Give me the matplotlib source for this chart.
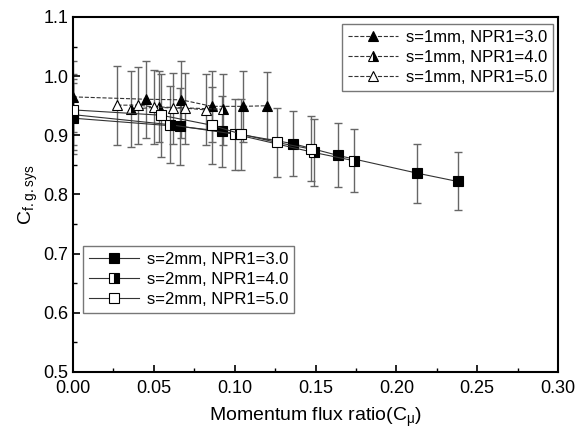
import matplotlib
matplotlib.use('Agg')
import matplotlib.pyplot as plt
from matplotlib.ticker import MultipleLocator

plt.rcParams['font.family'] = ['Liberation Sans', 'DejaVu Sans']
plt.rcParams['mathtext.default'] = 'regular'

# s=1mm (triangles, dashed)
x_t3 = [0.0, 0.045, 0.067, 0.086, 0.105, 0.120]
y_t3 = [0.965, 0.961, 0.960, 0.949, 0.949, 0.950]
e_t3 = [0.060, 0.065, 0.065, 0.060, 0.060, 0.057]

x_t4 = [0.036, 0.053, 0.093]
y_t4 = [0.944, 0.948, 0.944]
e_t4 = [0.064, 0.060, 0.060]

x_t5 = [0.0275, 0.0405, 0.050, 0.062, 0.0695, 0.082]
y_t5 = [0.951, 0.951, 0.948, 0.946, 0.946, 0.943]
e_t5 = [0.067, 0.065, 0.062, 0.060, 0.060, 0.060]

# s=2mm (squares, solid)
x_s3 = [0.0, 0.066, 0.092, 0.136, 0.164, 0.213, 0.238]
y_s3 = [0.929, 0.915, 0.907, 0.886, 0.866, 0.836, 0.822]
e_s3 = [0.060, 0.065, 0.060, 0.055, 0.054, 0.050, 0.049]

x_s4 = [0.0, 0.060, 0.100, 0.149, 0.174]
y_s4 = [0.935, 0.918, 0.902, 0.871, 0.857]
e_s4 = [0.060, 0.065, 0.060, 0.057, 0.053]

x_s5 = [0.0, 0.0545, 0.086, 0.104, 0.126, 0.147]
y_s5 = [0.943, 0.934, 0.917, 0.902, 0.888, 0.877]
e_s5 = [0.060, 0.070, 0.065, 0.060, 0.058, 0.055]

fig = plt.figure(figsize=(5.78, 4.38), dpi=100)
ax = fig.add_axes([73/578, 1-372/438, 485/578, 355/438])

ERR = dict(ecolor='#666666', elinewidth=1.0, capsize=3, capthick=1.0)

def serie(x, y, e, mk, fill, ls, lbl):
    ax.errorbar(x, y, yerr=e, fmt='none', zorder=1, **ERR)
    h, = ax.plot(x, y, linestyle=ls, color='#333333', linewidth=0.8,
                 marker=mk, markersize=6.5, markerfacecolor='black',
                 markerfacecoloralt='white', markeredgecolor='black',
                 markeredgewidth=0.8, fillstyle=fill, label=lbl, zorder=3)
    return h

h1 = serie(x_t3, y_t3, e_t3, '^', 'full', '--', 's=1mm, NPR1=3.0')
h2 = serie(x_t4, y_t4, e_t4, '^', 'right', '--', 's=1mm, NPR1=4.0')
h3 = serie(x_t5, y_t5, e_t5, '^', 'none', '--', 's=1mm, NPR1=5.0')
h4 = serie(x_s3, y_s3, e_s3, 's', 'full', '-', 's=2mm, NPR1=3.0')
h5 = serie(x_s4, y_s4, e_s4, 's', 'right', '-', 's=2mm, NPR1=4.0')
h6 = serie(x_s5, y_s5, e_s5, 's', 'none', '-', 's=2mm, NPR1=5.0')
for h in (h3, h6):
    h.set_markerfacecolor('white')
    h.set_fillstyle('full')

ax.set_xlim(0, 0.30)
ax.set_ylim(0.5, 1.1)
ax.xaxis.set_major_locator(MultipleLocator(0.05))
ax.xaxis.set_minor_locator(MultipleLocator(0.025))
ax.yaxis.set_major_locator(MultipleLocator(0.1))
ax.yaxis.set_minor_locator(MultipleLocator(0.05))
ax.xaxis.set_major_formatter(matplotlib.ticker.FormatStrFormatter('%.2f'))
ax.yaxis.set_major_formatter(matplotlib.ticker.FormatStrFormatter('%.1f'))
ax.tick_params(which='both', direction='in', top=False, right=False, labelsize=13)
ax.tick_params(axis='x', pad=6)
ax.tick_params(which='major', length=5, width=1.2)
ax.tick_params(which='minor', length=3, width=1.0)
for s in ax.spines.values():
    s.set_linewidth(1.5)

ax.set_xlabel(r'Momentum flux ratio(C$_{\mu}$)', fontsize=14, labelpad=6)
ax.set_ylabel(r'C$_{f.g.sys}$', fontsize=14, labelpad=2)

leg1 = ax.legend(handles=[h1, h2, h3], loc='upper right',
                 bbox_to_anchor=(0.99, 0.98), borderaxespad=0, fontsize=12,
                 fancybox=False, edgecolor='#777777', handlelength=3.0,
                 labelspacing=0.3, handletextpad=0.5, borderpad=0.35,
                 framealpha=1)
leg1.get_frame().set_linewidth(1.0)
ax.add_artist(leg1)
leg2 = ax.legend(handles=[h4, h5, h6], loc='lower left',
                 bbox_to_anchor=(0.02, 0.166), borderaxespad=0, fontsize=12,
                 fancybox=False, edgecolor='#777777', handlelength=3.0,
                 labelspacing=0.3, handletextpad=0.5, borderpad=0.35,
                 framealpha=1)
leg2.get_frame().set_linewidth(1.0)

fig.savefig('out.png', dpi=100, facecolor='white')
